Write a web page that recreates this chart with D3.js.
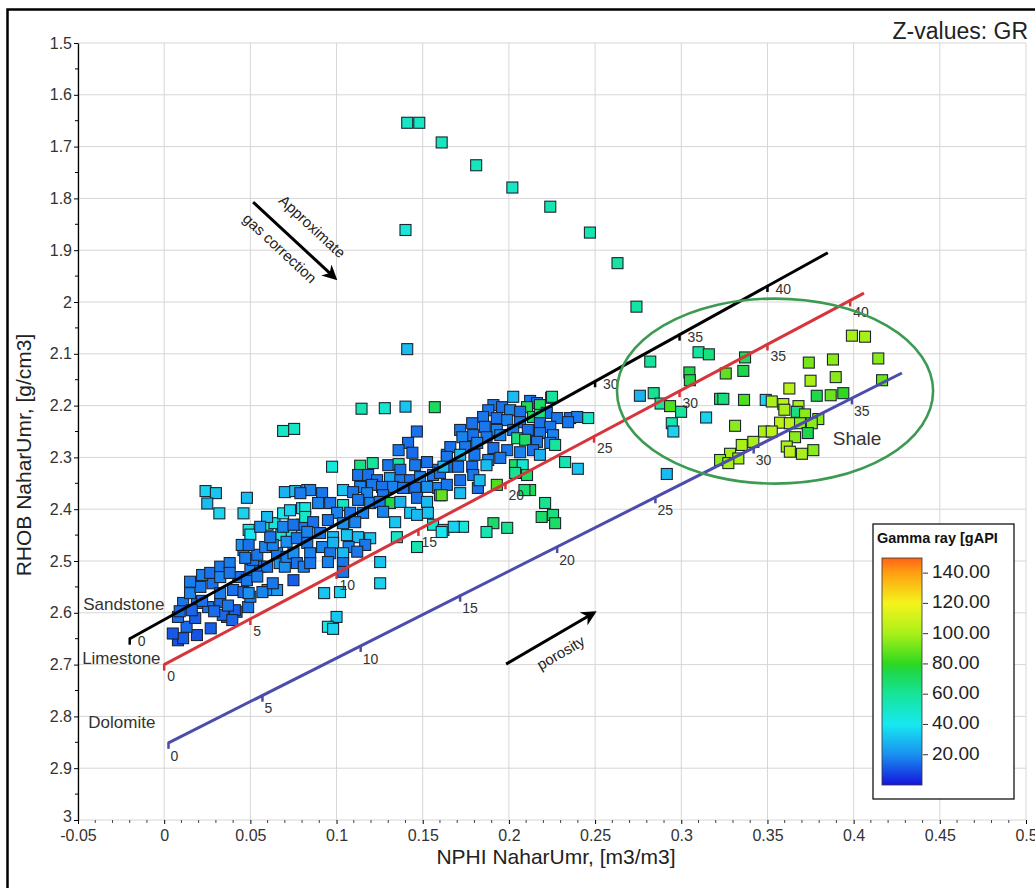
<!DOCTYPE html>
<html><head><meta charset="utf-8">
<script src="https://cdn.jsdelivr.net/npm/d3@7"></script>
<style>body{margin:0;background:#fff}svg{display:block}text{font-family:Arial,"Liberation Sans",sans-serif}</style>
</head><body><svg id="c" width="1035" height="888"></svg>
<script>
// ---------- data ----------
const xTicks = [-0.05,0,0.05,0.1,0.15,0.2,0.25,0.3,0.35,0.4,0.45,0.5];
const xTickLabels = ["-0.05","0","0.05","0.1","0.15","0.2","0.25","0.3","0.35","0.4","0.45","0.5"];
const yTicks = [1.5,1.6,1.7,1.8,1.9,2.0,2.1,2.2,2.3,2.4,2.5,2.6,2.7,2.8,2.9,3.0];
const yTickLabels = ["1.5","1.6","1.7","1.8","1.9","2","2.1","2.2","2.3","2.4","2.5","2.6","2.7","2.8","2.9","3"];
const xTitle = "NPHI NaharUmr, [m3/m3]";
const yTitle = "RHOB NaharUmr, [g/cm3]";
const zTitle = "Z-values: GR";

const grStops  = [0, 20, 40, 60, 75, 80, 100, 120, 140, 150];
const grColors = ["#1414dc","#1a90f0","#17e8f0","#16e49a","#1ed84a","#2ed820","#a8f018","#f4f41c","#ffa010","#ff6418"];
const legendTicks = [20,40,60,80,100,120,140];
const legendLabels = ["20.00","40.00","60.00","80.00","100.00","120.00","140.00"];
const legendTitle = "Gamma ray [gAPI";

const lithologies = ["Sandstone","Limestone","Dolomite"];
const lithoLabelPos = [[-0.047,2.585],[-0.0476,2.69],[-0.044,2.813]];
const sandstoneLine = [[-0.02,2.65],[0.385,1.905]];
const limestoneLine = [[0,2.70],[0.406,1.983]];
const dolomiteLine  = [[0.0025,2.851],[0.428,2.137]];
// [porosity label, NPHI, RHOB]
const sandstoneTicks = [[0,-0.02,2.65],[30,0.25,2.153],[35,0.299,2.063],[40,0.35,1.969]];
const limestoneTicks = [[0,0,2.70],[5,0.05,2.612],[10,0.1,2.523],[15,0.1475,2.44],[20,0.198,2.35],[25,0.2494,2.26],[30,0.299,2.172],[35,0.35,2.082],[40,0.398,1.997]];
const dolomiteTicks  = [[0,0.0025,2.851],[5,0.057,2.76],[10,0.114,2.664],[15,0.1717,2.567],[20,0.228,2.473],[25,0.285,2.377],[30,0.342,2.281],[35,0.399,2.186]];

// points: [NPHI, RHOB, GR]
const upperPoints = [[0.141,1.654,50],[0.148,1.654,50],[0.161,1.692,52],[0.181,1.736,52],[0.202,1.779,50],[0.224,1.816,55],[0.247,1.866,55],[0.263,1.925,58],[0.274,2.009,58],[0.140,1.861,45],[0.141,2.091,30],[0.282,2.115,60],[0.276,2.181,28],[0.284,2.176,62],[0.128,2.205,48],[0.140,2.202,32],[0.157,2.203,72],[0.2245,2.185,60],[0.1145,2.206,55],[0.069,2.249,50],[0.0754,2.245,50]];
const cyanPoints = [[0.024,2.365,35],[0.030,2.369,32],[0.025,2.389,30],[0.032,2.408,36],[0.048,2.378,30],[0.046,2.408,35],[0.070,2.367,28],[0.076,2.365,30],[0.083,2.363,25],[0.049,2.44,45],[0.050,2.449,40],[0.060,2.43,50],[0.064,2.427,45],[0.069,2.408,40],[0.073,2.402,35],[0.080,2.398,38],[0.068,2.45,45],[0.074,2.45,42],[0.080,2.444,40]];
const lowerLeftPoints = [[0.008,2.653,10],[0.011,2.649,12],[0.019,2.643,10],[0.027,2.63,12],[0.013,2.627,14],[0.008,2.608,15],[0.018,2.61,12],[0.0255,2.589,16],[0.0365,2.608,12],[0.042,2.598,15],[0.0487,2.589,16],[0.0325,2.579,14],[0.019,2.581,15],[0.011,2.581,16],[0.015,2.562,18],[0.021,2.55,16],[0.028,2.543,15],[0.0325,2.562,17],[0.040,2.556,15],[0.046,2.56,14],[0.050,2.569,18],[0.022,2.527,17],[0.0267,2.523,15],[0.0325,2.511,16],[0.0325,2.531,18],[0.038,2.504,17],[0.043,2.531,15],[0.048,2.537,16],[0.050,2.517,18],[0.0557,2.511,16],[0.046,2.479,18],[0.045,2.469,20],[0.0516,2.498,15],[0.047,2.494,17],[0.054,2.488,16],[0.0586,2.473,18],[0.0597,2.511,16],[0.067,2.504,22],[0.070,2.511,20],[0.0655,2.485,16],[0.071,2.492,18],[0.075,2.485,20],[0.077,2.504,15],[0.081,2.511,17],[0.075,2.537,12],[0.060,2.556,20],[0.0655,2.556,22],[0.057,2.56,18],[0.063,2.543,16],[0.063,2.469,18],[0.0615,2.454,16],[0.071,2.463,20],[0.077,2.456,16],[0.083,2.446,18],[0.080,2.43,16],[0.069,2.434,18],[0.0597,2.415,30],[0.0557,2.434,20],[0.075,2.43,15],[0.049,2.469,15],[0.049,2.562,20],[0.034,2.604,14],[0.041,2.595,12],[0.0395,2.614,13],[0.009,2.597,14],[0.022,2.577,15],[0.005,2.64,11],[0.016,2.595,13],[0.029,2.597,14],[0.037,2.586,16],[0.054,2.53,17],[0.038,2.523,16],[0.015,2.54,17]];
const midPoints = [[0.1466,2.25,15],[0.1415,2.272,15],[0.136,2.286,16],[0.144,2.291,14],[0.164,2.295,16],[0.0974,2.318,45],[0.1137,2.316,65],[0.121,2.311,60],[0.130,2.315,16],[0.136,2.313,60],[0.137,2.324,15],[0.1456,2.315,16],[0.1525,2.309,15],[0.159,2.324,16],[0.164,2.318,15],[0.1125,2.334,16],[0.1183,2.334,15],[0.1235,2.344,16],[0.131,2.34,25],[0.137,2.344,16],[0.1427,2.344,15],[0.1485,2.338,18],[0.156,2.334,16],[0.160,2.33,15],[0.1137,2.357,18],[0.1206,2.353,16],[0.1264,2.357,15],[0.1328,2.357,18],[0.1386,2.359,16],[0.1456,2.359,15],[0.1525,2.357,20],[0.159,2.359,18],[0.0847,2.363,18],[0.0916,2.369,16],[0.1038,2.363,32],[0.1096,2.367,16],[0.1177,2.369,18],[0.127,2.373,16],[0.079,2.369,17],[0.160,2.373,85],[0.0893,2.388,18],[0.0963,2.388,16],[0.1038,2.392,50],[0.1125,2.382,16],[0.1195,2.388,18],[0.131,2.388,75],[0.125,2.386,16],[0.137,2.386,28],[0.1467,2.378,15],[0.1525,2.386,30],[0.0818,2.398,45],[0.0818,2.415,50],[0.1003,2.407,18],[0.1079,2.407,16],[0.1154,2.407,18],[0.127,2.405,18],[0.1427,2.407,32],[0.1467,2.411,30],[0.153,2.407,32],[0.0864,2.425,15],[0.095,2.421,16],[0.1038,2.427,20],[0.1108,2.425,18],[0.134,2.425,32],[0.156,2.43,48],[0.162,2.44,62],[0.083,2.444,18],[0.0905,2.446,16],[0.098,2.454,30],[0.106,2.45,32],[0.1125,2.454,30],[0.1195,2.456,32],[0.135,2.454,50],[0.1467,2.473,55],[0.083,2.465,16],[0.0916,2.473,18],[0.098,2.465,28],[0.107,2.473,18],[0.1166,2.469,16],[0.0847,2.485,18],[0.0963,2.485,16],[0.1038,2.485,30],[0.112,2.482,16],[0.0847,2.504,16],[0.095,2.502,18],[0.1038,2.504,16],[0.1253,2.502,32],[0.1038,2.521,16],[0.1253,2.543,35],[0.0928,2.562,32],[0.102,2.56,35],[0.100,2.608,32],[0.095,2.627,42],[0.098,2.631,35]];
const densePoints = [[0.2025,2.183,30],[0.225,2.183,60],[0.2123,2.191,16],[0.2163,2.195,15],[0.2105,2.203,72],[0.218,2.199,70],[0.191,2.199,16],[0.196,2.203,15],[0.188,2.209,16],[0.2007,2.209,18],[0.2065,2.212,15],[0.222,2.214,16],[0.228,2.224,16],[0.2355,2.224,15],[0.2396,2.222,17],[0.246,2.224,50],[0.2343,2.232,16],[0.214,2.222,70],[0.218,2.218,65],[0.185,2.222,16],[0.193,2.224,15],[0.199,2.228,18],[0.2065,2.232,16],[0.218,2.234,15],[0.224,2.241,16],[0.1787,2.234,15],[0.186,2.241,16],[0.193,2.247,18],[0.2025,2.247,16],[0.211,2.247,15],[0.218,2.253,16],[0.2256,2.257,18],[0.1717,2.247,16],[0.173,2.261,18],[0.1793,2.257,15],[0.187,2.261,16],[0.195,2.257,18],[0.2048,2.263,65],[0.2094,2.266,70],[0.2163,2.27,16],[0.224,2.272,18],[0.2268,2.276,60],[0.166,2.28,15],[0.1746,2.28,16],[0.1816,2.272,18],[0.191,2.282,15],[0.199,2.286,16],[0.2065,2.29,18],[0.214,2.286,15],[0.218,2.295,28],[0.164,2.299,16],[0.1717,2.295,30],[0.180,2.295,16],[0.188,2.305,18],[0.195,2.301,16],[0.2036,2.315,70],[0.208,2.315,48],[0.162,2.318,30],[0.1705,2.318,16],[0.1787,2.318,15],[0.187,2.315,30],[0.1793,2.334,16],[0.1717,2.344,15],[0.164,2.353,16],[0.182,2.359,15],[0.1717,2.369,30],[0.161,2.373,88],[0.183,2.344,30],[0.193,2.353,85],[0.2036,2.33,62],[0.2105,2.334,70],[0.2123,2.363,72],[0.209,2.363,68],[0.2326,2.309,55],[0.240,2.322,32],[0.221,2.388,62],[0.219,2.415,70],[0.2256,2.411,66],[0.2268,2.427,70],[0.191,2.427,70],[0.199,2.436,62],[0.187,2.444,55],[0.1734,2.434,45],[0.168,2.434,35],[0.161,2.444,40]];
const shalePoints = [[0.310,2.097,60],[0.316,2.101,65],[0.337,2.107,72],[0.3047,2.136,75],[0.305,2.151,75],[0.3258,2.138,88],[0.336,2.133,75],[0.374,2.117,92],[0.388,2.111,95],[0.399,2.065,100],[0.4066,2.067,100],[0.4143,2.109,95],[0.4165,2.151,90],[0.375,2.152,100],[0.3896,2.145,95],[0.3627,2.167,105],[0.288,2.196,60],[0.2935,2.201,85],[0.2999,2.212,60],[0.3144,2.223,35],[0.3225,2.187,70],[0.3244,2.187,65],[0.3364,2.189,85],[0.349,2.189,35],[0.3525,2.192,100],[0.3786,2.181,75],[0.3867,2.18,90],[0.394,2.176,80],[0.3592,2.197,105],[0.3598,2.208,100],[0.368,2.201,100],[0.367,2.212,65],[0.3718,2.217,95],[0.3795,2.226,95],[0.3757,2.234,95],[0.3573,2.233,105],[0.363,2.234,105],[0.3689,2.234,95],[0.348,2.25,100],[0.3525,2.25,105],[0.3312,2.239,95],[0.3734,2.253,75],[0.366,2.261,95],[0.3418,2.27,100],[0.3351,2.276,100],[0.3612,2.279,100],[0.363,2.289,105],[0.37,2.293,100],[0.3766,2.286,95],[0.3283,2.293,100],[0.3331,2.302,100],[0.3225,2.305,95],[0.3273,2.311,100],[0.2916,2.332,30],[0.2945,2.234,55],[0.2954,2.25,35]];

const shaleEllipse = {cx:0.3544, cy:2.172, rx:0.0917, ry:0.1786};
const shaleLabel = ["Shale", 0.402, 2.266];
const gasArrow = [[0.0516,1.807],[0.0992,1.954]];
const porosityArrow = [[0.1984,2.699],[0.2494,2.600]];

// ---------- drawing ----------
const M = {l:78, r:1026, t:43, b:820};
const x = d3.scaleLinear().domain([-0.05,0.5]).range([M.l,M.r]);
const y = d3.scaleLinear().domain([1.5,3.0]).range([M.t,M.b]);
const color = d3.scaleLinear().domain(grStops).range(grColors).interpolate(d3.interpolateRgb).clamp(true);
const svg = d3.select("#c");

// outer frame
svg.append("rect").attr("x",7.5).attr("y",9.5).attr("width",1100).attr("height",1000)
  .attr("fill","none").attr("stroke","#000").attr("stroke-width",2.5);

// grid
const grid = svg.append("g");
grid.selectAll("line.vg").data(xTicks).join("line").attr("class","vg")
  .attr("x1",d=>x(d)).attr("x2",d=>x(d)).attr("y1",M.t).attr("y2",M.b).attr("stroke","#d6d6d6");
grid.selectAll("line.hg").data(yTicks).join("line").attr("class","hg")
  .attr("x1",M.l).attr("x2",M.r).attr("y1",d=>y(d)).attr("y2",d=>y(d)).attr("stroke","#d6d6d6");

// y axis
const yAxis = svg.append("g").attr("transform",`translate(${M.l},0)`)
  .call(d3.axisLeft(y).tickValues(yTicks).tickFormat((d,i)=>yTickLabels[i]).tickSize(4).tickSizeOuter(0).tickPadding(2));
yAxis.select(".domain").attr("stroke","#000").attr("stroke-width",1.3);
yAxis.selectAll("text").attr("font-size",16).attr("fill","#333");
yAxis.selectAll(".tick:last-of-type text").attr("dy","0.1em");
const yMinor = d3.range(1.55,3.0,0.1);
svg.append("g").selectAll("line").data(yMinor).join("line")
  .attr("x1",M.l-3).attr("x2",M.l).attr("y1",d=>y(d)).attr("y2",d=>y(d)).attr("stroke","#000");

// x axis
const xAxis = svg.append("g").attr("transform",`translate(0,${M.b})`)
  .call(d3.axisBottom(x).tickValues(xTicks).tickFormat((d,i)=>xTickLabels[i]).tickSize(4).tickSizeOuter(0).tickPadding(6));
xAxis.select(".domain").remove();
xAxis.selectAll("text").attr("font-size",16).attr("fill","#333");
const xMinor = d3.range(-0.04,0.5,0.01).filter(v=>Math.abs(Math.round(v*20)-v*20)>0.05);
svg.append("g").selectAll("line").data(xMinor).join("line")
  .attr("x1",d=>x(d)).attr("x2",d=>x(d)).attr("y1",M.b).attr("y2",M.b+3).attr("stroke","#444");

// axis titles
svg.append("text").attr("x",556).attr("y",864).attr("text-anchor","middle").attr("font-size",21).attr("fill","#222").text(xTitle);
svg.append("text").attr("transform","translate(31,455) rotate(-90)").attr("text-anchor","middle").attr("font-size",21).attr("fill","#222").text(yTitle);
svg.append("text").attr("x",1028).attr("y",39).attr("text-anchor","end").attr("font-size",23).attr("fill","#222").text(zTitle);

// points
const allPoints = [].concat(upperPoints, cyanPoints, lowerLeftPoints, midPoints, densePoints, shalePoints);
const S = 11;
svg.append("g").selectAll("rect").data(allPoints).join("rect")
  .attr("x",d=>x(d[0])-S/2).attr("y",d=>y(d[1])-S/2).attr("width",S).attr("height",S)
  .attr("fill",d=>color(d[2])).attr("stroke","#1c2430").attr("stroke-width",1.1);

// lithology lines
const line = d3.line().x(d=>x(d[0])).y(d=>y(d[1]));
const lithoSets = [
  {pts:sandstoneLine, ticks:sandstoneTicks, col:"#000000", off:[8,4]},
  {pts:limestoneLine, ticks:limestoneTicks, col:"#d6353c", off:[3,13]},
  {pts:dolomiteLine,  ticks:dolomiteTicks,  col:"#4c4cac", off:[2,14]}
];
lithoSets.forEach(s=>{
  svg.append("path").attr("d",line(s.pts)).attr("fill","none").attr("stroke",s.col).attr("stroke-width",3);
  svg.append("g").selectAll("line").data(s.ticks).join("line")
    .attr("x1",d=>x(d[1])).attr("x2",d=>x(d[1])).attr("y1",d=>y(d[2])-1).attr("y2",d=>y(d[2])+6)
    .attr("stroke",s.col).attr("stroke-width",2.5);
  svg.append("g").selectAll("text").data(s.ticks).join("text")
    .attr("x",d=>x(d[1])+s.off[0]).attr("y",d=>y(d[2])+s.off[1]).attr("dominant-baseline","middle")
    .attr("font-family","'Open Sans',sans-serif").attr("font-size",14).attr("fill","#333").text(d=>d[0]);
});
svg.append("g").selectAll("text").data(lithologies).join("text")
  .attr("x",(d,i)=>x(lithoLabelPos[i][0])).attr("y",(d,i)=>y(lithoLabelPos[i][1]))
  .attr("dominant-baseline","middle").attr("font-family","'Open Sans',sans-serif").attr("font-size",17)
  .attr("fill","#333").text(d=>d);

// shale ellipse
svg.append("ellipse").attr("cx",x(shaleEllipse.cx)).attr("cy",y(shaleEllipse.cy))
  .attr("rx",x(shaleEllipse.cx+shaleEllipse.rx)-x(shaleEllipse.cx))
  .attr("ry",y(shaleEllipse.cy+shaleEllipse.ry)-y(shaleEllipse.cy))
  .attr("fill","none").attr("stroke","#3d9a52").attr("stroke-width",2.6);
svg.append("text").attr("x",x(shaleLabel[1])).attr("y",y(shaleLabel[2])).attr("text-anchor","middle")
  .attr("dominant-baseline","middle").attr("font-family","'Open Sans',sans-serif").attr("font-size",19)
  .attr("fill","#333").text(shaleLabel[0]);

// arrows
const defs = svg.append("defs");
defs.append("marker").attr("id","ah").attr("viewBox","0 0 10 10").attr("refX",8).attr("refY",5)
  .attr("markerWidth",5).attr("markerHeight",5).attr("orient","auto")
  .append("path").attr("d","M0,0 L10,5 L0,10 L3,5 z").attr("fill","#000");
function arrow(a){
  const x1=x(a[0][0]), y1=y(a[0][1]), x2=x(a[1][0]), y2=y(a[1][1]);
  svg.append("line").attr("x1",x1).attr("y1",y1).attr("x2",x2).attr("y2",y2)
    .attr("stroke","#000").attr("stroke-width",3).attr("marker-end","url(#ah)");
  const ang=Math.atan2(y2-y1,x2-x1);
  return {mx:(x1+x2)/2,my:(y1+y2)/2,ang,deg:ang*180/Math.PI};
}
function along(a, n, t){
  const nx=Math.sin(a.ang), ny=-Math.cos(a.ang), tx=Math.cos(a.ang), ty=Math.sin(a.ang);
  return [a.mx+nx*n+tx*t, a.my+ny*n+ty*t];
}
function annot(a, n, t, txt){
  const p=along(a,n,t);
  svg.append("text").attr("transform",`translate(${p[0]},${p[1]}) rotate(${a.deg})`)
    .attr("text-anchor","middle").attr("dominant-baseline","middle")
    .attr("font-family","'DejaVu Serif',serif").attr("font-size",15).attr("fill","#222").text(txt);
}
const ga = arrow(gasArrow);
annot(ga, 21, 4, "Approximate");
annot(ga, -17, -5, "gas correction");
const pa = arrow(porosityArrow);
annot(pa, -19, 2, "porosity");

// legend
const L = {x:873, y:524, w:141, h:275, bx:882, bw:40, bt:558, bb:785};
const ly = d3.scaleLinear().domain([0,150]).range([L.bb,L.bt]);
const grad = defs.append("linearGradient").attr("id","grg").attr("x1",0).attr("y1",1).attr("x2",0).attr("y2",0);
grad.selectAll("stop").data(grStops).join("stop").attr("offset",d=>d/150).attr("stop-color",(d,i)=>grColors[i]);
svg.append("rect").attr("x",L.x).attr("y",L.y).attr("width",L.w).attr("height",L.h).attr("fill","#fff").attr("stroke","#000").attr("stroke-width",1.2);
svg.append("text").attr("x",L.x+4).attr("y",L.y+19).attr("font-size",14.5).attr("font-weight","bold").attr("fill","#111").text(legendTitle);
svg.append("rect").attr("x",L.bx).attr("y",L.bt).attr("width",L.bw).attr("height",L.bb-L.bt).attr("fill","url(#grg)").attr("stroke","#333").attr("stroke-width",0.8);
svg.append("g").selectAll("line").data(legendTicks).join("line")
  .attr("x1",L.bx+L.bw+1).attr("x2",L.bx+L.bw+6).attr("y1",d=>ly(d)).attr("y2",d=>ly(d)).attr("stroke","#333");
svg.append("g").selectAll("text").data(legendTicks).join("text")
  .attr("x",L.bx+L.bw+10).attr("y",d=>ly(d)).attr("dominant-baseline","middle").attr("font-size",19).attr("fill","#222")
  .text((d,i)=>legendLabels[i]);
</script></body></html>
